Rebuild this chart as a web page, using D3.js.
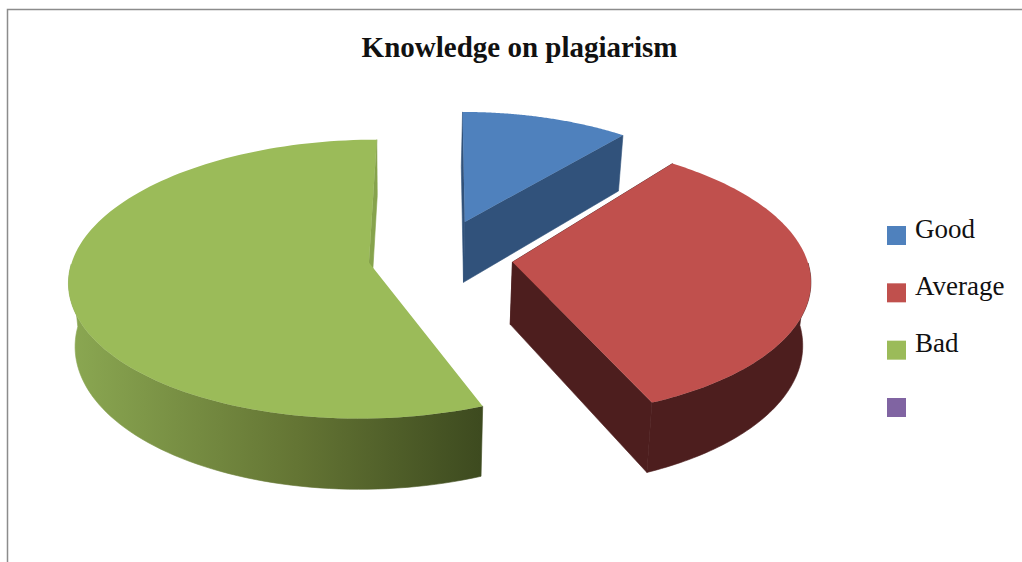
<!DOCTYPE html>
<html lang="en">
  <head>
    <meta charset="UTF-8" />
    <title>Knowledge on plagiarism</title>
    <style>
      body {
        margin: 0;
        background: #fff;
      }
      svg {
        display: block;
      }
      text {
        font-family: "Liberation Serif", serif;
        fill: #111;
      }
    </style>
  </head>
  <body>
    <svg width="1022" height="562"></svg>
    <script src="https://d3js.org/d3.v7.min.js"></script>
    <script>
      const categories = ["Good", "Average", "Bad", ""];
      const shares = [11, 33, 56, 0];
      const topColors = ["#4f81bd", "#c0504d", "#9bbb59", "#8064a2"];
      const faceColors = ["#31527b", "#4d1e1e", "#86a34c", "#4d3b62"];
      const chartTitle = "Knowledge on plagiarism";

      const svg = d3.select("svg");

      // chart frame, only top and left edges are visible
      svg
        .append("path")
        .attr("d", "M7.5,562V9.5H1022")
        .attr("fill", "none")
        .attr("stroke", "#8c8c8c")
        .attr("stroke-width", 1.5);

      svg
        .append("text")
        .attr("x", 519.5)
        .attr("y", 57)
        .attr("text-anchor", "middle")
        .attr("font-size", 29)
        .attr("font-weight", "bold")
        .text(chartTitle);

      // fake 3d: the disc lies on a tilted plane seen in perspective
      const cx = 442,
        cy = 254,
        radius = 300,
        tilt = 0.46,
        persp = 0.12,
        depth = 62,
        shrink = 0.98,
        shrinkX = 400;
      const explode = [69, 70, 75, 0];
      const sliceScale = [0.93, 0.98, 0.985, 1];
      // small per slice corrections, the simple projection is a bit off
      const sliceTurn = [0, -1.7, 0, 0].map((deg) => (deg * Math.PI) / 180);
      const sliceShift = [
        [0, -3],
        [1, 3],
        [1, 2],
        [0, 0],
      ];

      function project(X, Y, lower) {
        const s = 1 / (1 + (persp * Y) / radius);
        const x = cx + X * s;
        return lower
          ? [shrinkX + (x - shrinkX) * shrink, cy - tilt * Y * s + depth * s]
          : [x, cy - tilt * Y * s];
      }

      const line = d3.line();
      const arcs = d3.pie().sort(null)(shares);

      const defs = svg.append("defs");
      const grad = defs.append("linearGradient").attr("id", "rimBad");
      grad.append("stop").attr("offset", "0%").attr("stop-color", "#8ba852");
      grad.append("stop").attr("offset", "55%").attr("stop-color", "#647534");
      grad.append("stop").attr("offset", "100%").attr("stop-color", "#3d4a1f");

      const pieG = svg.append("g");

      arcs.forEach((d, i) => {
        if (d.value === 0) return;
        const a0 = d.startAngle + sliceTurn[i],
          a1 = d.endAngle + sliceTurn[i];
        const mid = (d.startAngle + d.endAngle) / 2;
        const ox = explode[i] * Math.sin(mid),
          oy = explode[i] * Math.cos(mid),
          r = radius * sliceScale[i];
        const rim = (a, lower) =>
          project(ox + r * Math.sin(a), oy + r * Math.cos(a), lower);
        const steps = d3.range(0, 121).map((k) => a0 + ((a1 - a0) * k) / 120);
        const front = steps.filter((a) => Math.cos(a) <= 0);
        const apex = project(ox, oy, false),
          apexLow = project(ox, oy, true);

        const g = pieG
          .append("g")
          .attr("class", "slice")
          .attr("transform", `translate(${sliceShift[i]})`);

        // the cut faces, skipped where the top hides them anyway
        [a0, a1].forEach((a) => {
          if (i === 2 && a === a0) return;
          g.append("path")
            .attr(
              "d",
              line([apex, rim(a, false), rim(a, true), apexLow]) + "Z"
            )
            .attr("fill", faceColors[i])
            .attr("stroke", faceColors[i])
            .attr("stroke-width", 0.6);
        });

        // outer wall, front half only
        if (front.length) {
          const wallFill = i === 2 ? "url(#rimBad)" : faceColors[i];
          g.append("path")
            .attr(
              "d",
              line(
                front
                  .map((a) => rim(a, false))
                  .concat(front.slice().reverse().map((a) => rim(a, true)))
              ) + "Z"
            )
            .attr("fill", wallFill)
            .attr("stroke", wallFill)
            .attr("stroke-width", 0.6);
        }

        // top
        g.append("path")
          .attr("d", line([apex].concat(steps.map((a) => rim(a, false)))) + "Z")
          .attr("fill", topColors[i]);
      });

      // legend
      const legendY = d3
        .scalePoint()
        .domain(d3.range(categories.length))
        .range([235.5, 407.5]);

      const legend = svg
        .append("g")
        .selectAll("g")
        .data(categories)
        .join("g")
        .attr("transform", (d, i) => `translate(887,${legendY(i)})`);

      legend
        .append("rect")
        .attr("y", -9.5)
        .attr("width", 19)
        .attr("height", 19)
        .attr("fill", (d, i) => topColors[i]);

      legend
        .append("text")
        .attr("x", 28)
        .attr("y", 2)
        .attr("font-size", 27)
        .text((d) => d);
    </script>
  </body>
</html>
